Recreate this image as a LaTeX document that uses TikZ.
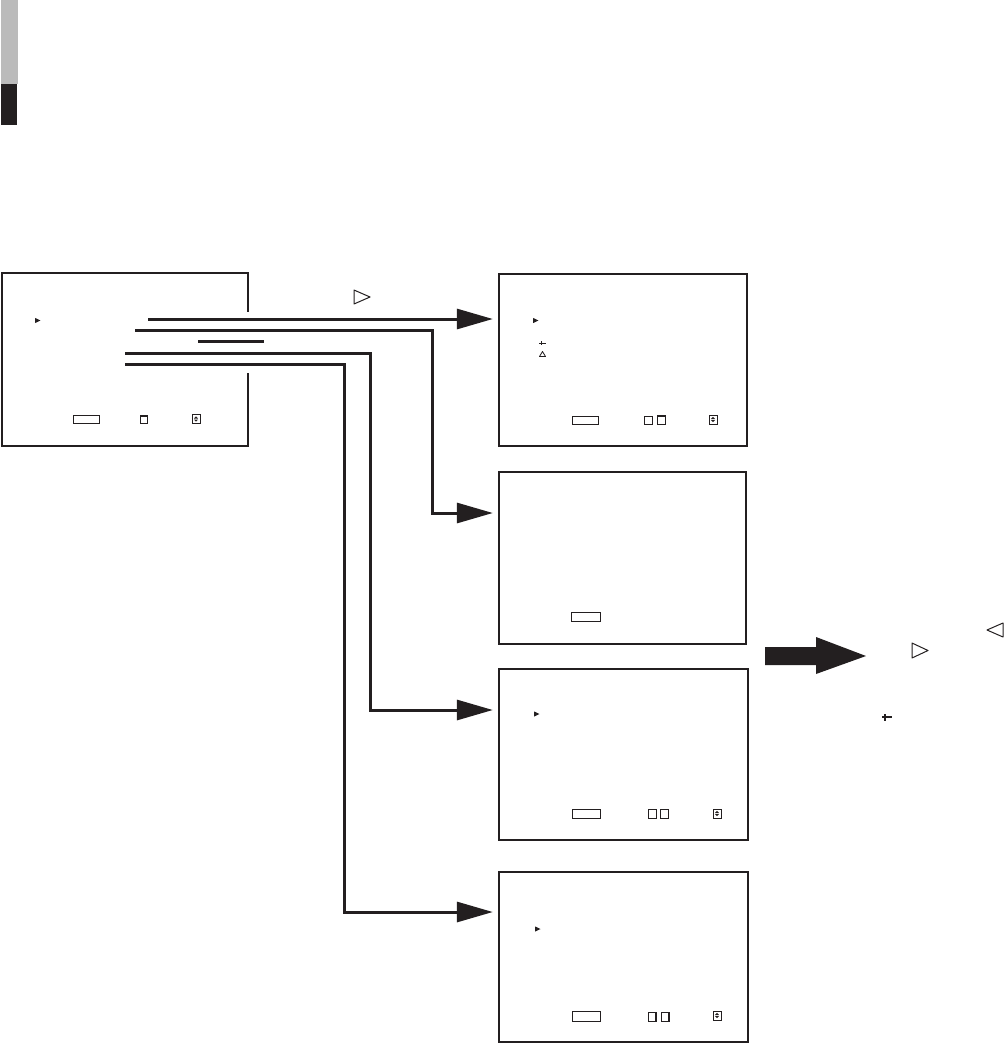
\documentclass[tikz,border=0pt]{standalone}
\usetikzlibrary{arrows.meta}
\definecolor{ink}{RGB}{35,31,32}
\definecolor{barg}{RGB}{187,187,187}
\tikzset{
  screen/.style={draw=ink, line width=2.3pt, inner sep=0pt, rectangle},
  conn/.style={draw=ink, line width=3pt},
  arr/.style={conn, -{Triangle[length=36pt,width=20pt]}, shorten >=5pt},
  btn/.style={draw=ink, line width=1pt},
  mark/.style={fill=ink},
  otri/.style={draw=ink, line width=1pt, line join=round},
}
\newcommand{\updown}[2]{%
  \draw[btn] (#1,#2) rectangle ++(8,9);
  \fill[ink] (#1+4,#2+1.8) -- (#1+6,#2+4) -- (#1+2,#2+4) -- cycle;
  \fill[ink] (#1+4,#2+7.2) -- (#1+6,#2+5) -- (#1+2,#2+5) -- cycle;
}
\newcommand{\pmark}[2]{\fill[ink] (#1,#2-2.6) -- (#1+5.5,#2) -- (#1,#2+2.6) -- cycle;}
\begin{document}
\begin{tikzpicture}[x=1pt,y=-1pt]
\useasboundingbox (0,0) rectangle (1004,1044);
% side tab
\fill[barg] (1,0) rectangle (18,84);
\fill[ink] (1,84) rectangle (17,125);

% screens
\node[inner sep=0pt, minimum width=246pt, minimum height=173pt] (b1) at (125,359.5) {};
\draw[ink, line width=2.3pt] ([yshift=-39pt]b1.north east) -- (b1.north east) -- (b1.north west) -- (b1.south west) -- (b1.south east) -- ([yshift=73pt]b1.south east);
\node[screen, minimum width=248pt, minimum height=172pt] (b2) at (623,360) {};
\node[screen, minimum width=247pt, minimum height=172pt] (b3) at (622.5,558) {};
\node[screen, minimum width=249pt, minimum height=171pt] (b4) at (623.5,754.5) {};
\node[screen, minimum width=249pt, minimum height=170pt] (b5) at (623.5,957) {};

% connectors
\coordinate (s1) at (148,319);
\coordinate (s2) at (135,330);
\coordinate (s3a) at (198,341);
\coordinate (s3b) at (264,341);
\coordinate (s4) at (125,353);
\coordinate (s5) at (125,364);
\coordinate (k2) at (432,513);
\coordinate (k4) at (370,710);
\coordinate (k5) at (344,912);
\draw[arr] (s1) -- (s1 -| b2.west);
\draw[arr] (s2) -| (k2) -- (k2 -| b3.west);
\draw[conn] (s3a) -- (s3b);
\draw[arr] (s4) -| (k4) -- (k4 -| b4.west);
\draw[arr] (s5) -| (k5) -- (k5 -| b5.west);

% outlined triangle above first arrow
\draw[otri] (354,290) -- (370,297) -- (354,304) -- cycle;

% screen 1 contents
\pmark{35}{320.5}
\draw[btn] (73,415) rectangle (99,423);
\draw[btn] (140.5,415.5) rectangle (147,423);
\draw[ink, line width=2pt] (140,415.5) -- (147.5,415.5);
\updown{192}{414.5}

% screen 2 contents
\pmark{533}{320.5}
\draw[ink, line width=1pt] (539,343) -- (546,343);
\draw[ink, line width=1pt] (541,341) -- (541,345);
\draw[ink, line width=0.8pt, line join=round] (539.5,356.5) -- (542.5,351.5) -- (545.5,356.5) -- cycle;
\draw[btn] (572,416) rectangle (598,424);
\draw[btn] (644.5,416) rectangle (652.5,424);
\draw[btn] (657.5,416) rectangle (665.5,424);
\draw[ink, line width=2pt] (657,416.3) -- (666,416.3);
\updown{709}{415}

% screen 3 contents
\draw[btn] (571,612) rectangle (600,621);

% screen 4 contents
\pmark{534}{714}
\draw[btn] (572,809) rectangle (600,818);
\draw[btn] (648.5,809.5) rectangle (656.5,818);
\draw[btn] (660.5,809.5) rectangle (668.5,818);
\updown{713}{809}

% screen 5 contents
\pmark{535}{929}
\draw[btn] (572,1011) rectangle (600,1021);
\draw[btn] (648.5,1012) rectangle (656,1021);
\draw[ink, line width=2pt] (655.5,1012) -- (655.5,1021);
\draw[btn] (661.5,1012) rectangle (669,1021);
\draw[ink, line width=2pt] (668.5,1012) -- (668.5,1021);
\updown{713}{1011}

% big arrow
\fill[ink] (765,647) -- (816,647) -- (816,637) -- (866,656) -- (816,674) -- (816,665) -- (765,665) -- cycle;
\draw[otri] (912,643) -- (928,650.5) -- (912,658) -- cycle;
\draw[otri] (1003,623) -- (987,630) -- (1003,637) -- cycle;
\draw[ink, line width=1.3pt] (882,717) -- (892,717);
\draw[ink, line width=1.3pt] (885,714) -- (885,721);
\end{tikzpicture}
\end{document}
